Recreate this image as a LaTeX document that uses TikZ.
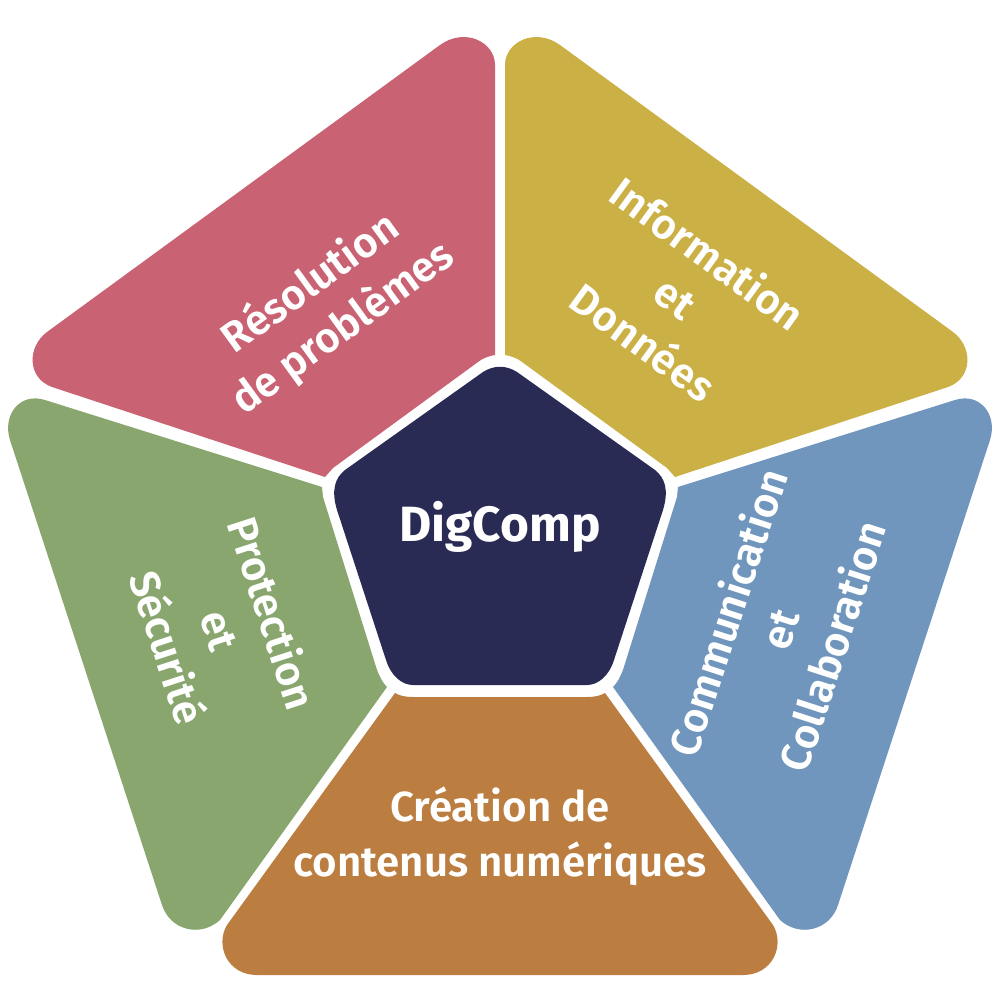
\documentclass[tikz,border=0pt]{standalone}
\usepackage{fontspec}
\setmainfont{Fira Sans}[BoldFont={Fira Sans SemiBold}]
\newfontfamily\heavy{Fira Sans}[UprightFont={* Bold}]
\definecolor{cred}{HTML}{C96373}
\definecolor{cyel}{HTML}{CBB045}
\definecolor{cblu}{HTML}{7096BD}
\definecolor{cgre}{HTML}{89A66E}
\definecolor{cora}{HTML}{BB7E40}
\definecolor{cnav}{HTML}{2A2B55}
\tikzset{
  lab/.style={text=white,font=\bfseries\fontsize{42}{55}\selectfont,align=center,inner sep=0pt},
  petal/.style={line join=round,draw=none}
}
\begin{document}
\begin{tikzpicture}[x=1pt,y=-1pt]
\useasboundingbox (0,0) rectangle (1000,1000);
\fill[white] (0,0) rectangle (1000,1000);
% red
\fill[cred,petal] (495,355) -- (495,65) .. controls (495,42) and (465,27) .. (440,45) -- (47,332) .. controls (27,347) and (27,378) .. (52,387) -- (325,477) -- (333,468) -- (478,362) .. controls (483,358) and (489,356) .. (495,355) -- cycle;
% yellow
\fill[cyel,petal] (505,355) -- (505,65) .. controls (505,42) and (535,27) .. (560,45) -- (953,332) .. controls (973,347) and (973,378) .. (948,387) -- (675,477) -- (667,468) -- (522,362) .. controls (517,358) and (511,356) .. (505,355) -- cycle;
% blue
\fill[cblu,petal] (678,487) -- (955,400) .. controls (980,392) and (998,415) .. (990,440) -- (838,905) .. controls (830,930) and (800,938) .. (780,920) -- (613,687) .. controls (618,682) and (620,677) .. (623,670) -- (677,497) -- cycle;
% green
\fill[cgre,petal] (322,487) -- (45,400) .. controls (20,392) and (2,415) .. (10,440) -- (162,905) .. controls (170,930) and (200,938) .. (220,920) -- (387,687) .. controls (382,682) and (380,677) .. (377,670) -- (323,497) -- cycle;
% orange
\fill[cora,petal] (395,693) .. controls (400,696) and (406,697) .. (413,697) -- (587,697) .. controls (594,697) and (600,696) .. (605,693) -- (773,925) .. controls (785,945) and (773,975) .. (743,975) -- (257,975) .. controls (227,975) and (215,945) .. (227,925) -- cycle;
% centre
\fill[cnav,petal] (483,372) .. controls (494,365) and (506,365) .. (517,372) -- (655,470) .. controls (665,478) and (669,490) .. (663,510) -- (614,660) .. controls (609,676) and (598,685) .. (587,685) -- (413,685) .. controls (402,685) and (391,676) .. (386,660) -- (337,510) .. controls (331,490) and (335,478) .. (345,470) -- cycle;
\node[lab,font=\heavy\fontsize{49.5}{55}\selectfont] (centre) at (500,527) {DigComp};
\node[lab,rotate=36] (resol) at (327,306) {Résolution\\de problèmes};
\node[lab,rotate=-36] (info) at (676,297) {Information\\et\\Données};
\node[lab,rotate=72] (comm) at (779,629) {Communication\\et\\Collaboration};
\node[lab,rotate=-72] (prot) at (221,630) {Protection\\et\\Sécurité};
\node[lab] (crea) at (500,836) {Création de\\contenus numériques};
\end{tikzpicture}
\end{document}
